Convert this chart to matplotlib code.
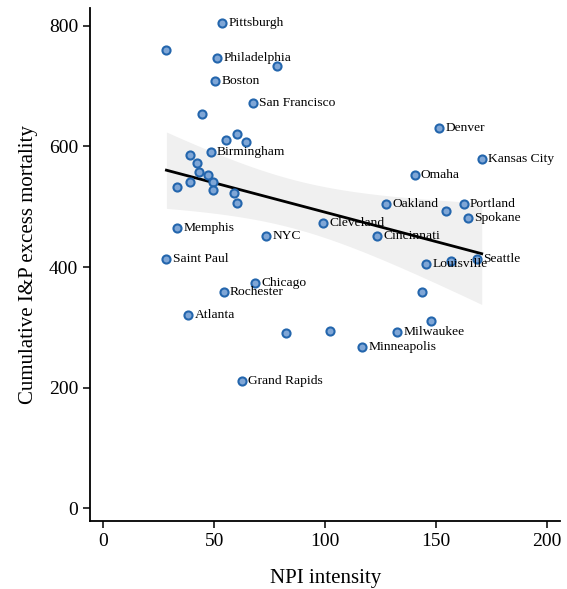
import numpy as np
import matplotlib
matplotlib.use('Agg')
import matplotlib.pyplot as plt

plt.rcParams['font.family'] = ['Liberation Serif', 'DejaVu Serif']

# NPI intensity vs cumulative excess mortality
npi = [53.5, 28.4, 51.2, 78.4, 50.3, 67.3, 44.3, 55.3, 60.2, 64.3,
       48.3, 39.2, 42.3, 43.2, 47.3, 49.2, 33.2, 39.2, 49.4, 59.1,
       60.2, 33.2, 73.3, 99.2, 28.4, 68.3, 54.2, 38.3, 82.4, 102.4,
       116.7, 62.3, 151.5, 170.6, 140.4, 127.5, 154.5, 162.5, 164.5, 123.4,
       145.5, 156.6, 168.5, 143.6, 147.6, 132.4]
mort = [805, 760, 747, 733, 709, 672, 654, 610, 621, 607,
        590, 586, 573, 558, 552, 541, 532, 541, 528, 522,
        507, 464, 451, 473, 413, 373, 358, 320, 290, 294,
        267, 211, 630, 579, 553, 505, 493, 505, 482, 451,
        405, 410, 414, 358, 311, 292]
city = ['Pittsburgh', '', 'Philadelphia', '', 'Boston', 'San Francisco', '', '', '', '',
        'Birmingham', '', '', '', '', '', '', '', '', '',
        '', 'Memphis', 'NYC', 'Cleveland', 'Saint Paul', 'Chicago', 'Rochester', 'Atlanta', '', '',
        'Minneapolis', 'Grand Rapids', 'Denver', 'Kansas City', 'Omaha', 'Oakland', '', 'Portland', 'Spokane', 'Cincinnati',
        'Louisville', '', 'Seattle', '', '', 'Milwaukee']

x = np.array(npi)
y = np.array(mort)

# linear fit with 95% CI of the mean
b, a = np.polyfit(x, y, 1)
n = len(x)
resid = y - (a + b * x)
s = np.sqrt(np.sum(resid**2) / (n - 2))
sxx = np.sum((x - x.mean())**2)
xs = np.linspace(x.min(), x.max(), 100)
yf = a + b * xs
se = s * np.sqrt(1.0 / n + (xs - x.mean())**2 / sxx)
t = 2.015

fig = plt.figure(figsize=(5.67, 5.89), dpi=100)
ax = fig.add_axes([0.159, 0.1154, 0.829, 0.8706])

ax.fill_between(xs, yf - t * se, yf + t * se, color='#f0f0f0', lw=0, zorder=1)
ax.plot(xs, yf, color='black', lw=2, zorder=2)
ax.scatter(x, y, s=34, facecolor='#7fa6d6', edgecolor='#2466ad', linewidth=1.5, zorder=3)

for xi, yi, c in zip(x, y, city):
    if c:
        ax.annotate(c, (xi, yi), xytext=(4.5, 0), textcoords='offset points',
                    va='center', ha='left', fontsize=9.7, zorder=4)

ax.set_xlim(-6, 206)
ax.set_ylim(-21, 829)
ax.set_xticks([0, 50, 100, 150, 200])
ax.set_yticks([0, 200, 400, 600, 800])
ax.spines['top'].set_visible(False)
ax.spines['right'].set_visible(False)
ax.spines['left'].set_linewidth(1.3)
ax.spines['bottom'].set_linewidth(1.3)
ax.tick_params(direction='out', length=5, width=1.1, labelsize=14)
ax.set_xlabel('NPI intensity', fontsize=15, labelpad=14)
ax.set_ylabel('Cumulative I&P excess mortality', fontsize=15, labelpad=8)

fig.savefig('out.png', dpi=100)
